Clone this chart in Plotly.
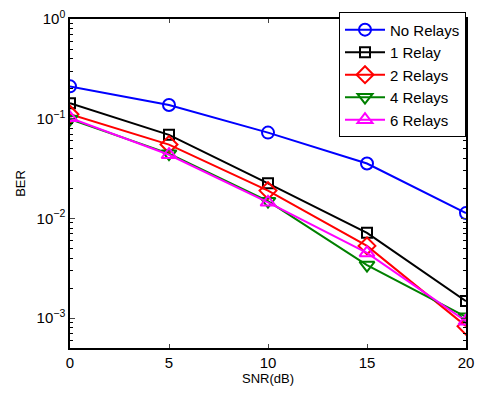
import plotly.graph_objects as go

snr = [0, 5, 10, 15, 20]
series_names = ["No Relays", "1 Relay", "2 Relays", "4 Relays", "6 Relays"]
ber_no = [0.211, 0.137, 0.0725, 0.0355, 0.0113]
ber_1 = [0.143, 0.0689, 0.0225, 0.00716, 0.00148]
ber_2 = [0.111, 0.055, 0.019, 0.0053, 0.00083]
ber_4 = [0.099, 0.0446, 0.0149, 0.0034, 0.00103]
ber_6 = [0.102, 0.0435, 0.0145, 0.0045, 0.00093]
y_tick_vals = [1e-3, 1e-2, 1e-1, 1]
y_tick_text = ["10<sup>−3</sup>", "10<sup>−2</sup>", "10<sup>−1</sup>", "10<sup>0</sup>"]
x_tick_vals = [0, 5, 10, 15, 20]

styles = [
    ("#0000ff", "circle-open", 12),
    ("#000000", "square-open", 10),
    ("#ff0000", "diamond-open", 13),
    ("#008000", "triangle-down-open", 13),
    ("#ff00ff", "triangle-up-open", 13),
]

fig = go.Figure()
for name, ys, (c, sym, sz) in zip(series_names, [ber_no, ber_1, ber_2, ber_4, ber_6], styles):
    fig.add_trace(go.Scatter(
        x=snr, y=ys, name=name, mode="lines+markers",
        line=dict(color=c, width=2),
        marker=dict(symbol=sym, size=sz, color=c, line=dict(color=c, width=2)),
    ))

minor_vals = []
for e in [-4, -3, -2, -1]:
    for m in range(2, 10):
        v = m * 10 ** e
        if 5e-4 <= v <= 1:
            minor_vals.append(v)

font = dict(family="Liberation Sans, Arial, sans-serif", size=13, color="black")

fig.update_layout(
    width=481, height=395,
    margin=dict(l=70, r=15, t=16, b=47),
    paper_bgcolor="white", plot_bgcolor="white",
    font=font,
    showlegend=True,
    legend=dict(x=1, y=1.02, xanchor="right", yanchor="top",
                bordercolor="black", borderwidth=1, bgcolor="white",
                font=dict(size=15), tracegroupgap=0, itemwidth=40,
                traceorder="normal"),
)
fig.update_xaxes(
    range=[0, 20], tickvals=x_tick_vals, ticks="inside", ticklen=4,
    showline=True, linecolor="black", linewidth=1.5, mirror="ticks",
    showgrid=False, zeroline=False, automargin=False,
    title=dict(text="SNR(dB)", standoff=4, font=dict(size=13)),
    tickfont=dict(size=15),
)
fig.update_yaxes(
    type="log", range=[-3.3, 0], tickvals=y_tick_vals, ticktext=y_tick_text,
    ticks="inside", ticklen=5,
    showline=True, linecolor="black", linewidth=1.5, mirror="ticks",
    showgrid=False, zeroline=False, automargin=False,
    minor=dict(tickvals=minor_vals, ticks="inside", ticklen=3, tickcolor="black", showgrid=False),
    title=dict(text="BER", standoff=8, font=dict(size=13)),
    tickfont=dict(size=15),
)

fig.write_html("out.html", config={"displayModeBar": False})
with open("out.html", "r", encoding="utf-8") as f:
    html = f.read()
html = html.replace("<body>", '<body style="margin:0;padding:0;">', 1)
with open("out.html", "w", encoding="utf-8") as f:
    f.write(html)
